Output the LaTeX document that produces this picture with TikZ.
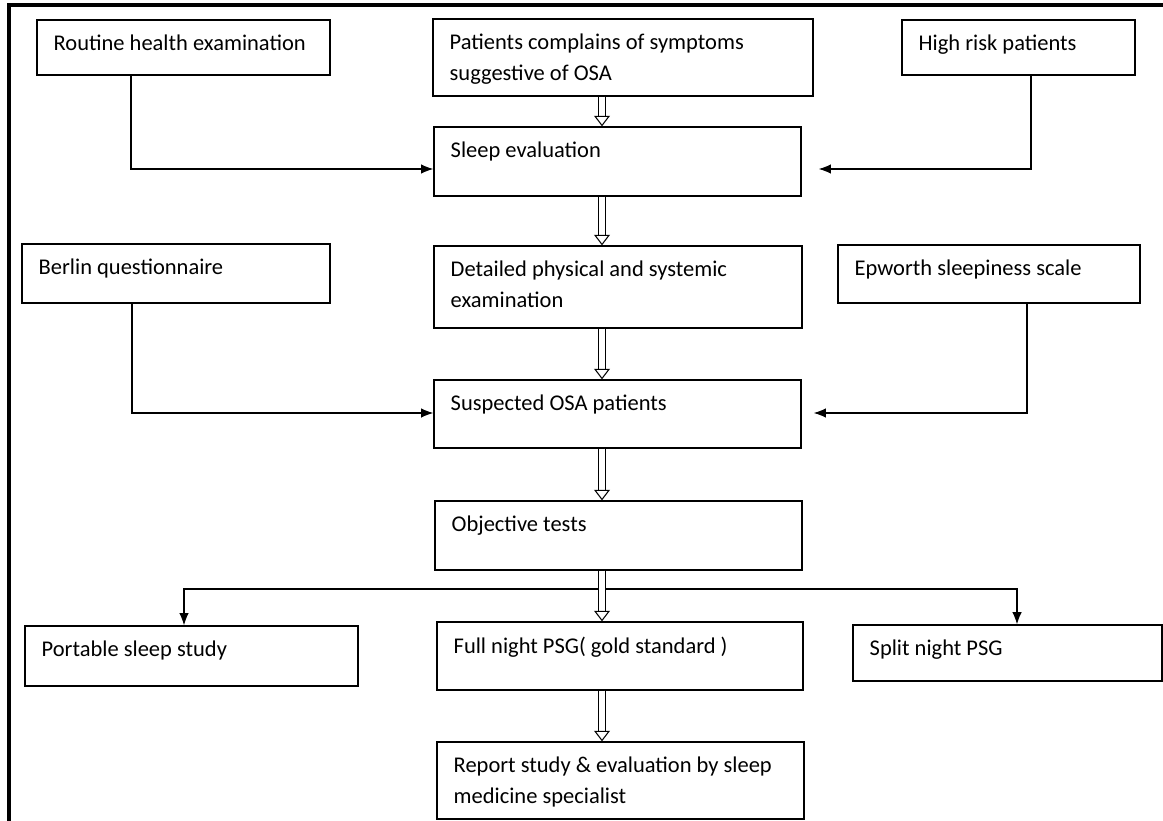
\documentclass[tikz,border=0pt]{standalone}
\usepackage{fontspec}
\setmainfont{Carlito}
\usetikzlibrary{arrows.meta,fit}

\tikzset{
  box/.style={draw, line width=0.75pt, inner sep=0pt},
  txt/.style={anchor=north west, align=left, inner sep=0pt, xshift=0.34cm, yshift=-0.31cm},
  arr/.style={line width=0.75pt, -{Latex[length=7pt,width=5.5pt]}},
  hollow/.style={double, double distance=3.9pt, line width=0.6pt, -{Triangle[open,length=6pt,width=9pt]}},
}

\begin{document}
\begin{tikzpicture}[x=0.02cm, y=-0.02cm, font=\fontsize{12.8}{17.6}\selectfont]
  \useasboundingbox (0,0) rectangle (1163,821);
  % page frame
  \draw[line width=1.8pt] (9,821) -- (9,5) -- (1163,5);

  % top row
  \node[box, fit={(37,20) (330,75)}, label={[txt]north west:Routine health examination}] (routine) {};
  \node[box, fit={(433,19) (813,96)}, label={[txt]north west:Patients complains of symptoms\\suggestive of OSA}] (patients) {};
  \node[box, fit={(902,20) (1135,75)}, label={[txt]north west:High risk patients}] (highrisk) {};

  \node[box, fit={(434,127) (801,196)}, label={[txt]north west:Sleep evaluation}] (sleep) {};

  % middle row
  \node[box, fit={(22,244) (330,303)}, label={[txt]north west:Berlin questionnaire}] (berlin) {};
  \node[box, fit={(434,246) (802,328)}, label={[txt]north west:Detailed physical and systemic\\examination}] (detailed) {};
  \node[box, fit={(838,245) (1140,303)}, label={[txt]north west:Epworth sleepiness scale}] (epworth) {};

  \node[box, fit={(434,380) (801,448)}, label={[txt]north west:Suspected OSA patients}] (suspected) {};
  \node[box, fit={(435,501) (802,570)}, label={[txt]north west:Objective tests}] (objective) {};

  % bottom row
  \node[box, fit={(25,626) (358,686)}, label={[txt]north west:Portable sleep study}] (portable) {};
  \node[box, fit={(437,622) (803,690)}, label={[txt]north west:Full night PSG( gold standard )}] (fullnight) {};
  \node[box, fit={(853,625) (1162,681)}, label={[txt]north west:Split night PSG}] (split) {};

  \node[box, fit={(437,742) (804,819)}, label={[txt]north west:Report study \& evaluation by sleep\\medicine specialist}] (report) {};

  % knees of the side connectors
  \coordinate (k1) at (131,169);
  \coordinate (k2) at (1031,169);
  \coordinate (k3) at (132,413);
  \coordinate (k4) at (1027,413);
  \coordinate (r1) at (184,589);
  \coordinate (r2) at (1017,589);
  \coordinate (spine) at (602,0);

  \draw[arr] (routine.south -| k1) -- (k1) -- (sleep.west |- k1);
  \draw[arr, shorten >=0.34cm] (highrisk.south -| k2) -- (k2) -- (sleep.east |- k2);
  \draw[arr] (berlin.south -| k3) -- (k3) -- (suspected.west |- k3);
  \draw[arr, shorten >=0.24cm] (epworth.south -| k4) -- (k4) -- (suspected.east |- k4);
  \draw[line width=0.75pt, {Latex[length=7pt,width=5.5pt]}-{Latex[length=7pt,width=5.5pt]}]
    (portable.north -| r1) -- (r1) -- (r2) -- (split.north -| r2);

  % hollow arrows down the middle
  \draw[hollow] (patients.south -| spine) -- (sleep.north -| spine);
  \draw[hollow] (sleep.south -| spine) -- (detailed.north -| spine);
  \draw[hollow] (detailed.south -| spine) -- (suspected.north -| spine);
  \draw[hollow] (suspected.south -| spine) -- (objective.north -| spine);
  \draw[hollow] (objective.south -| spine) -- (fullnight.north -| spine);
  \draw[hollow] (fullnight.south -| spine) -- (report.north -| spine);
\end{tikzpicture}
\end{document}
